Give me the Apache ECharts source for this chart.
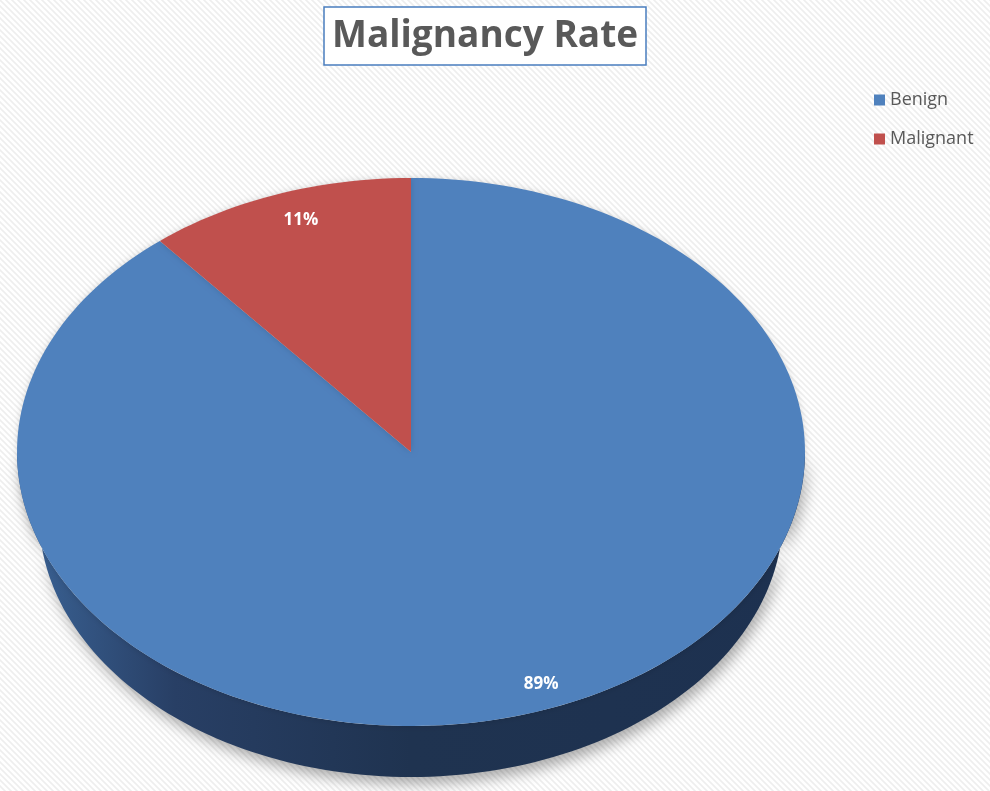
<!DOCTYPE html>
<html lang="en">
<head>
    <meta charset="UTF-8">
    <title>Malignancy Rate</title>
    <script src="https://cdn.jsdelivr.net/npm/echarts@6/dist/echarts.min.js"></script>
    <style>
        html, body { margin: 0; padding: 0; background: #fff; }
        #main { width: 990px; height: 791px; }
    </style>
</head>
<body>
<div id="main"></div>
<script>
    // data
    var categories = ['Benign', 'Malignant'];
    var values = [89, 11];
    var colors = ['#4f81bd', '#c0504d'];

    var total = values.reduce(function (a, b) { return a + b; }, 0);

    // pie layout (pixels): top ellipse, and the lower rim seen a bit smaller (perspective)
    var cx = 411, cy = 452, rx = 394, ry = 274;
    var cy2 = 515, rx2 = 372, ry2 = 262;

    function pt(a, bottom) {
        // a: angle clockwise from 12 o'clock
        if (bottom) return [cx + rx2 * Math.sin(a), cy2 - ry2 * Math.cos(a)];
        return [cx + rx * Math.sin(a), cy - ry * Math.cos(a)];
    }

    function arc(a0, a1, bottom) {
        var pts = [];
        var n = Math.max(2, Math.ceil((a1 - a0) / (Math.PI * 2) * 240));
        for (var s = 0; s <= n; s++) {
            pts.push(pt(a0 + (a1 - a0) * s / n, bottom));
        }
        return pts;
    }

    // faint diagonal stripes behind the chart
    var pat = document.createElement('canvas');
    pat.width = 6; pat.height = 6;
    var ctx = pat.getContext('2d');
    ctx.fillStyle = '#ffffff';
    ctx.fillRect(0, 0, 6, 6);
    ctx.strokeStyle = '#eeeeee';
    ctx.lineWidth = 1.6;
    ctx.beginPath();
    ctx.moveTo(-1, -1); ctx.lineTo(7, 7);
    ctx.moveTo(-1, 5); ctx.lineTo(1, 7);
    ctx.moveTo(5, -1); ctx.lineTo(7, 1);
    ctx.stroke();

    function makeRender(k) {
        return function (params, api) {
            var start = 0;
            for (var j = 0; j < k; j++) start += values[j];
            var v = api.value(0);
            var a0 = start / total * Math.PI * 2;
            var a1 = (start + v) / total * Math.PI * 2;
            var children = [];

            // front wall, only the part facing us
            var s0 = Math.max(a0, Math.PI / 2), s1 = Math.min(a1, Math.PI * 1.5);
            if (s1 > s0) {
                var wall = arc(s0, s1, false).concat(arc(s0, s1, true).reverse());
                children.push({
                    type: 'polygon',
                    shape: { points: wall },
                    style: {
                        fill: new echarts.graphic.LinearGradient(1, 0, 0, 0, [
                            { offset: 0, color: '#1d3150' },
                            { offset: 0.5, color: '#1f3350' },
                            { offset: 0.8, color: '#283f65' },
                            { offset: 1, color: '#3b6497' }
                        ]),
                        shadowBlur: 14,
                        shadowOffsetX: 3,
                        shadowOffsetY: 7,
                        shadowColor: 'rgba(0,0,0,0.32)'
                    }
                });
            }

            // top face
            var face = [[cx, cy]].concat(arc(a0, a1, false));
            children.push({
                type: 'polygon',
                shape: { points: face },
                style: {
                    fill: api.visual('color'),
                    shadowBlur: 6,
                    shadowColor: 'rgba(0,0,0,0.15)'
                }
            });

            // percentage label
            var mid = (a0 + a1) / 2;
            var f = 0.9;
            children.push({
                type: 'text',
                style: {
                    text: Math.round(v / total * 100) + '%',
                    x: cx + rx * f * Math.sin(mid) + 10,
                    y: cy - ry * f * Math.cos(mid),
                    fill: '#ffffff',
                    font: 'bold 17px "Open Sans", sans-serif',
                    align: 'center',
                    verticalAlign: 'middle',
                    textAlign: 'center',
                    textVerticalAlign: 'middle'
                }
            });

            return { type: 'group', children: children };
        };
    }

    var series = categories.map(function (name, k) {
        return {
            name: name,
            type: 'custom',
            coordinateSystem: 'none',
            silent: true,
            itemStyle: { color: colors[k] },
            data: [values[k]],
            renderItem: makeRender(k)
        };
    });

    var myChart = echarts.init(document.getElementById('main'));
    myChart.setOption({
        animation: false,
        backgroundColor: { image: pat, repeat: 'repeat' },
        title: {
            text: 'Malignancy Rate',
            left: 324,
            top: 7,
            padding: [5, 8, 5, 8],
            borderColor: '#4a7ebf',
            borderWidth: 1.5,
            backgroundColor: '#ffffff',
            textStyle: {
                fontFamily: '"Open Sans", sans-serif',
                fontSize: 37,
                fontWeight: 'bold',
                color: '#595959',
                lineHeight: 48
            }
        },
        legend: {
            orient: 'vertical',
            left: 874,
            top: 91,
            padding: 0,
            icon: 'rect',
            itemWidth: 11,
            itemHeight: 11,
            itemGap: 21,
            data: categories,
            textStyle: {
                fontFamily: '"Open Sans", sans-serif',
                fontSize: 18,
                color: '#595959'
            }
        },
        series: series
    });
</script>
</body>
</html>
